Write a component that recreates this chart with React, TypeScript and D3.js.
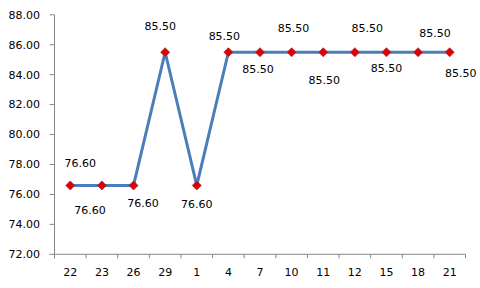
import React from "react";
import * as d3 from "d3";

const categories = ["22", "23", "26", "29", "1", "4", "7", "10", "11", "12", "15", "18", "21"];
const values = [76.6, 76.6, 76.6, 85.5, 76.6, 85.5, 85.5, 85.5, 85.5, 85.5, 85.5, 85.5, 85.5];
const yTicks = [72, 74, 76, 78, 80, 82, 84, 86, 88];
// label offsets relative to each point (dx, dy of text center)
const labelDx = [10, -12, 9.5, -5, 0, -4, -2, 2, 1, 12.5, 0, 17, 11];
const labelDy = [-22.5, 25, 17.5, -26.5, 18.5, -16.5, 16.5, -24.5, 27.5, -24.5, 16, -19.5, 20.5];

const W = 480, H = 288;
const left = 54.5, right = 465.5, top = 14.8, bottom = 254.3;
const font = "DejaVu Sans, Verdana, sans-serif";

export default function App() {
  const x = d3.scaleBand<string>().domain(categories).range([left, right]).paddingInner(0).paddingOuter(0);
  const y = d3.scaleLinear().domain([72, 88]).range([bottom, top]);
  const cx = (i: number) => (x(categories[i]) as number) + x.bandwidth() / 2;
  const line = d3.line<number>().x((_, i) => cx(i)).y((d) => y(d));
  const boundaries = categories.map((c) => x(c) as number).concat([right]);
  const axisColor = "#868686";
  const diamond = (px: number, py: number, r: number) =>
    `M${px},${py - r}L${px + r},${py}L${px},${py + r}L${px - r},${py}Z`;

  return (
    <svg width={W} height={H} style={{ position: "absolute", left: 0, top: 0, background: "#fff" }}>
      <rect x={0} y={0} width={W} height={H} fill="#fff" />
      {/* y axis */}
      <line x1={left} x2={left} y1={top} y2={bottom + 4} stroke={axisColor} strokeWidth={1} />
      {yTicks.map((t) => (
        <g key={t}>
          <line x1={left - 5} x2={left} y1={y(t)} y2={y(t)} stroke={axisColor} />
          <text x={40} y={y(t)} dy="0.35em" textAnchor="end" fontSize={11} fontFamily={font} fill="#000">
            {t.toFixed(2)}
          </text>
        </g>
      ))}
      {/* x axis */}
      <line x1={left} x2={right} y1={bottom} y2={bottom} stroke={axisColor} />
      {boundaries.map((b, i) => (
        <line key={i} x1={b} x2={b} y1={bottom} y2={bottom + 4} stroke={axisColor} />
      ))}
      {categories.map((c, i) => (
        <text key={c + i} x={cx(i)} y={272} dy="0.35em" textAnchor="middle" fontSize={11} fontFamily={font} fill="#000">
          {c}
        </text>
      ))}
      {/* series */}
      <path d={line(values) || ""} fill="none" stroke="#4a7ebb" strokeWidth={3} strokeLinejoin="round" />
      {values.map((v, i) => (
        <path key={i} d={diamond(cx(i), y(v), 4.5)} fill="#e00000" stroke="#a0304a" strokeWidth={0.8} />
      ))}
      {values.map((v, i) => (
        <text
          key={"l" + i}
          x={cx(i) + labelDx[i]}
          y={y(v) + labelDy[i]}
          dy="0.35em"
          textAnchor="middle"
          fontSize={11}
          fontFamily={font}
          fill="#000"
        >
          {v.toFixed(2)}
        </text>
      ))}
    </svg>
  );
}
